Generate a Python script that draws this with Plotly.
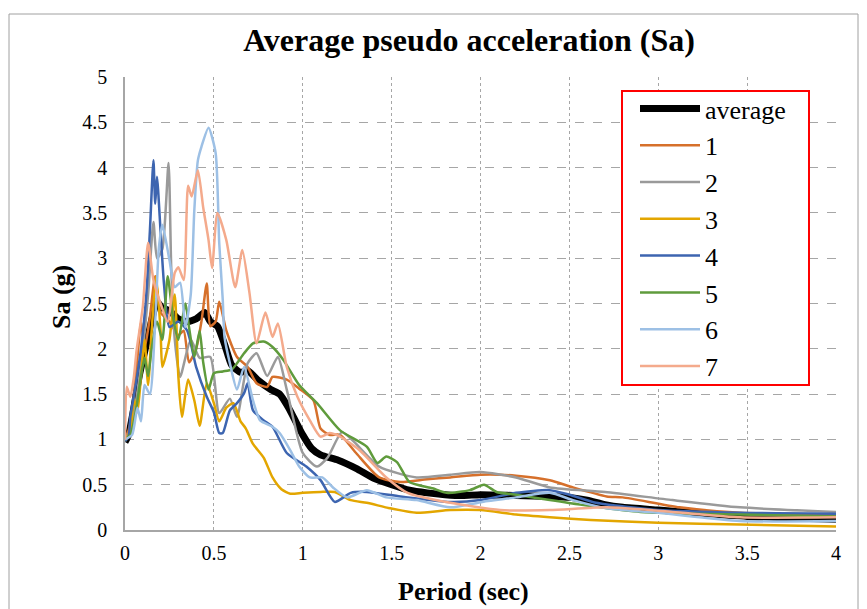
import plotly.graph_objects as go

# ---------------- data ----------------
series_names = ["average", "1", "2", "3", "4", "5", "6", "7"]

t_avg = [0, 0.02, 0.05, 0.08, 0.12, 0.16, 0.18, 0.21, 0.25, 0.3, 0.35, 0.4, 0.45, 0.48, 0.52, 0.56, 0.6, 0.65,
         0.69, 0.75, 0.82, 0.87, 0.92, 0.96, 1.0, 1.05, 1.1, 1.2, 1.3, 1.4, 1.5, 1.6, 1.7, 1.8, 1.9, 2.0, 2.2,
         2.4, 2.5, 2.6, 2.7, 2.8, 3.0, 3.2, 3.5, 3.8, 4.0]
sa_avg = [0.97, 1.05, 1.35, 1.7, 2.05, 2.4, 2.52, 2.45, 2.42, 2.33, 2.3, 2.33, 2.4, 2.3, 2.25, 2.05, 1.82, 1.74,
          1.76, 1.65, 1.55, 1.5, 1.35, 1.2, 1.05, 0.9, 0.83, 0.77, 0.68, 0.57, 0.5, 0.44, 0.41, 0.39, 0.38, 0.39,
          0.38, 0.37, 0.36, 0.33, 0.28, 0.25, 0.22, 0.19, 0.15, 0.13, 0.12]

t1 = [0, 0.02, 0.04, 0.07, 0.09, 0.11, 0.14, 0.17, 0.2, 0.25, 0.3, 0.33, 0.36, 0.4, 0.43, 0.46, 0.48, 0.51, 0.53,
      0.57, 0.63, 0.69, 0.74, 0.8, 0.83, 0.91, 0.98, 1.06, 1.1, 1.15, 1.21, 1.3, 1.43, 1.55, 1.7, 1.83, 2.0, 2.2,
      2.39, 2.52, 2.71, 2.8, 3.12, 3.46, 4.0]
sa1 = [1.0, 1.1, 1.3, 1.9, 2.3, 2.0, 2.35, 2.8, 2.4, 2.3, 2.15, 2.2, 1.85, 2.0, 2.3, 2.72, 2.25, 2.3, 2.52,
       2.2, 1.91, 1.8, 1.62, 1.58, 1.69, 1.66, 1.56, 1.43, 1.12, 1.05, 1.05, 0.85, 0.58, 0.53, 0.56, 0.58, 0.61,
       0.6, 0.55, 0.47, 0.37, 0.36, 0.25, 0.19, 0.17]

t2 = [0, 0.03, 0.06, 0.1, 0.13, 0.16, 0.18, 0.21, 0.245, 0.26, 0.28, 0.31, 0.37, 0.42, 0.48, 0.53, 0.59, 0.63,
      0.69, 0.74, 0.8, 0.86, 0.91, 1.0, 1.08, 1.14, 1.22, 1.28, 1.43, 1.64, 1.83, 2.0, 2.2, 2.39, 2.7, 3.08,
      3.46, 4.0]
sa2 = [1.0, 1.1, 1.4, 2.0, 2.6, 3.4, 3.0, 3.1, 4.05, 2.9, 2.1, 1.69, 2.1, 1.9, 1.91, 1.29, 1.45, 1.25, 1.84,
       1.95, 1.7, 1.91, 1.55, 0.85, 0.7, 0.8, 1.08, 0.99, 0.7, 0.58, 0.61, 0.64, 0.58, 0.47, 0.42, 0.33, 0.25, 0.2]

t3 = [0, 0.03, 0.05, 0.07, 0.09, 0.11, 0.13, 0.15, 0.175, 0.2, 0.21, 0.25, 0.28, 0.3, 0.32, 0.355, 0.39, 0.42,
      0.46, 0.5, 0.53, 0.57, 0.61, 0.65, 0.68, 0.72, 0.78, 0.83, 0.88, 0.93, 1.0, 1.1, 1.18, 1.27, 1.36, 1.49,
      1.64, 1.83, 2.0, 2.2, 2.39, 2.62, 3.0, 3.46, 4.0]
sa3 = [0.98, 1.1, 1.45, 1.3, 1.7, 2.1, 1.6, 2.2, 2.8, 2.2, 1.8, 2.1, 2.6, 1.7, 1.25, 1.66, 1.43, 1.15, 1.62,
       1.4, 1.2, 1.35, 1.4, 1.2, 1.12, 0.95, 0.8, 0.58, 0.45, 0.4, 0.41, 0.42, 0.42, 0.33, 0.3, 0.24, 0.19, 0.22,
       0.22, 0.17, 0.14, 0.11, 0.08, 0.06, 0.04]

t4 = [0, 0.02, 0.03, 0.06, 0.09, 0.12, 0.14, 0.16, 0.17, 0.18, 0.2, 0.22, 0.25, 0.3, 0.35, 0.4, 0.46, 0.5, 0.53,
      0.55, 0.59, 0.63, 0.67, 0.69, 0.72, 0.78, 0.83, 0.91, 1.02, 1.1, 1.18, 1.27, 1.36, 1.55, 1.83, 2.0, 2.2,
      2.39, 2.5, 2.65, 3.0, 3.46, 4.0]
sa4 = [0.98, 1.03, 1.25, 1.6, 2.0, 2.6, 3.3, 4.08, 3.6, 3.9, 3.3, 2.7, 2.24, 2.3, 2.2, 1.8, 1.47, 1.3, 1.07,
       1.07, 1.32, 1.4, 1.51, 1.62, 1.32, 1.21, 1.14, 0.85, 0.7, 0.55, 0.31, 0.41, 0.42, 0.37, 0.31, 0.33, 0.41,
       0.44, 0.39, 0.3, 0.22, 0.19, 0.18]

t5 = [0, 0.03, 0.06, 0.09, 0.11, 0.13, 0.15, 0.18, 0.21, 0.24, 0.27, 0.3, 0.34, 0.36, 0.39, 0.42, 0.44, 0.47,
      0.5, 0.55, 0.6, 0.63, 0.67, 0.72, 0.78, 0.83, 0.89, 0.98, 1.08, 1.21, 1.36, 1.42, 1.47, 1.53, 1.6, 1.73,
      1.81, 1.94, 2.02, 2.09, 2.2, 2.39, 2.56, 2.9, 3.46, 4.0]
sa5 = [1.0, 1.05, 1.3, 1.7, 1.9, 1.7, 2.0, 2.3, 2.1, 2.8, 2.35, 2.1, 2.5, 2.24, 1.91, 2.2, 1.85, 1.55, 1.73,
       1.75, 1.77, 1.84, 1.95, 2.06, 2.08, 2.02, 1.88, 1.6, 1.4, 1.1, 0.92, 0.74, 0.81, 0.75, 0.53, 0.46, 0.41,
       0.44, 0.5, 0.42, 0.39, 0.33, 0.28, 0.2, 0.17, 0.15]

t6 = [0, 0.04, 0.07, 0.09, 0.11, 0.14, 0.17, 0.19, 0.21, 0.25, 0.28, 0.31, 0.34, 0.37, 0.39, 0.41, 0.43, 0.47,
      0.51, 0.53, 0.55, 0.56, 0.59, 0.63, 0.67, 0.72, 0.76, 0.83, 0.87, 0.93, 0.98, 1.04, 1.11, 1.17, 1.25,
      1.36, 1.47, 1.64, 1.83, 2.01, 2.2, 2.39, 2.52, 2.71, 3.0, 3.46, 4.0]
sa6 = [1.0, 1.05, 1.35, 1.2, 1.6, 1.5, 2.3, 3.1, 3.37, 2.98, 2.68, 2.73, 2.24, 2.6, 3.53, 4.08, 4.23, 4.44,
       4.16, 3.17, 2.54, 2.13, 1.84, 1.55, 1.8, 1.43, 1.21, 1.14, 1.07, 0.88, 0.7, 0.58, 0.58, 0.47, 0.36, 0.44,
       0.36, 0.33, 0.25, 0.31, 0.36, 0.41, 0.33, 0.24, 0.19, 0.1, 0.1]

t7 = [0, 0.01, 0.03, 0.05, 0.065, 0.1, 0.13, 0.16, 0.2, 0.24, 0.28, 0.3, 0.33, 0.355, 0.375, 0.41, 0.44, 0.47,
      0.49, 0.52, 0.57, 0.62, 0.66, 0.7, 0.74, 0.79, 0.83, 0.86, 0.91, 0.97, 1.04, 1.1, 1.15, 1.21, 1.32, 1.47,
      1.59, 1.83, 2.11, 2.39, 2.71, 3.08, 3.46, 4.0]
sa7 = [1.0, 1.58, 1.47, 1.69, 1.98, 2.46, 3.17, 2.76, 2.5, 2.3, 2.84, 2.9, 2.76, 3.8, 3.68, 3.97, 3.56, 3.2,
       2.89, 3.5, 3.2, 2.68, 3.09, 2.62, 2.06, 2.4, 2.13, 2.28, 1.8, 1.47, 1.21, 1.03, 1.07, 1.03, 0.88, 0.58,
       0.41, 0.3, 0.22, 0.22, 0.25, 0.2, 0.14, 0.14]

x_ticks = [0, 0.5, 1, 1.5, 2, 2.5, 3, 3.5, 4]
x_tick_labels = ["0", "0.5", "1", "1.5", "2", "2.5", "3", "3.5", "4"]
y_ticks = [0, 0.5, 1, 1.5, 2, 2.5, 3, 3.5, 4, 4.5, 5]
y_tick_labels = ["0", "0.5", "1", "1.5", "2", "2.5", "3", "3.5", "4", "4.5", "5"]

# ---------------- styles ----------------
colors = ["#000000", "#D6702B", "#9A9A9A", "#E3A600", "#3D65B0", "#5F9B3C", "#9DC0E5", "#F4AA8C"]
widths = [7, 2.5, 2.5, 2.5, 2.5, 2.5, 2.5, 2.5]
SERIF = "Liberation Serif, Times New Roman, serif"

xs = [t_avg, t1, t2, t3, t4, t5, t6, t7]
ys = [sa_avg, sa1, sa2, sa3, sa4, sa5, sa6, sa7]

fig = go.Figure()
for i, name in enumerate(series_names):
    fig.add_trace(go.Scatter(
        x=xs[i], y=ys[i], name=name, mode="lines",
        line=dict(color=colors[i], width=widths[i], shape="spline", smoothing=0.6),
    ))

W, H = 867, 609
L, R, T, B = 125, 31, 77, 79
pw, ph = W - L - R, H - T - B

def px_x(p):
    return (p - L) / pw

def px_y(p):
    return (H - B - p) / ph

fig.update_layout(
    width=W, height=H,
    margin=dict(l=L, r=R, t=T, b=B),
    paper_bgcolor="white", plot_bgcolor="white",
    font=dict(family=SERIF, color="black"),
    title=dict(text="<b>Average pseudo acceleration (Sa)</b>", font=dict(size=32, family=SERIF),
               x=px_x(469), xref="paper", xanchor="center", y=1 - 40 / H, yref="container", yanchor="middle"),
    xaxis=dict(range=[0, 4], tickvals=x_ticks, ticktext=x_tick_labels, showgrid=True, gridcolor="#A6A6A6",
               griddash="dot", gridwidth=1, showline=True, linecolor="#A6A6A6", linewidth=1.5, zeroline=False,
               ticks="", tickfont=dict(size=20, family=SERIF), ticklabelstandoff=4, fixedrange=True),
    yaxis=dict(range=[0, 5], tickvals=y_ticks, ticktext=y_tick_labels, showgrid=True, gridcolor="#A6A6A6",
               griddash="dash", gridwidth=1, showline=True, linecolor="#A6A6A6", linewidth=1.5, zeroline=False,
               ticks="", tickfont=dict(size=20, family=SERIF), ticklabelstandoff=12, fixedrange=True),
    showlegend=True,
    legend=dict(x=px_x(635), y=px_y(85), xanchor="left", yanchor="top", bgcolor="rgba(0,0,0,0)",
                borderwidth=0, font=dict(size=26, family=SERIF),
                itemwidth=60, traceorder="normal"),
    annotations=[
        dict(text="<b>Period (sec)</b>", x=px_x(463), y=px_y(591), xref="paper", yref="paper",
             showarrow=False, font=dict(size=26, family=SERIF), xanchor="center", yanchor="middle"),
        dict(text="<b>Sa (g)</b>", x=px_x(61), y=px_y(297), xref="paper", yref="paper", textangle=-90,
             showarrow=False, font=dict(size=26, family=SERIF), xanchor="center", yanchor="middle"),
    ],
    shapes=[
        dict(type="rect", xref="paper", yref="paper", x0=px_x(9), x1=px_x(858), y0=px_y(640), y1=px_y(14),
             line=dict(color="#A0A0A0", width=1), fillcolor="rgba(0,0,0,0)", layer="below"),
        # legend box
        dict(type="rect", xref="paper", yref="paper", x0=px_x(622), x1=px_x(809), y0=px_y(385), y1=px_y(91),
             line=dict(color="#FF0000", width=2), fillcolor="white", layer="above"),
    ],
)

fig.write_html("out.html")
